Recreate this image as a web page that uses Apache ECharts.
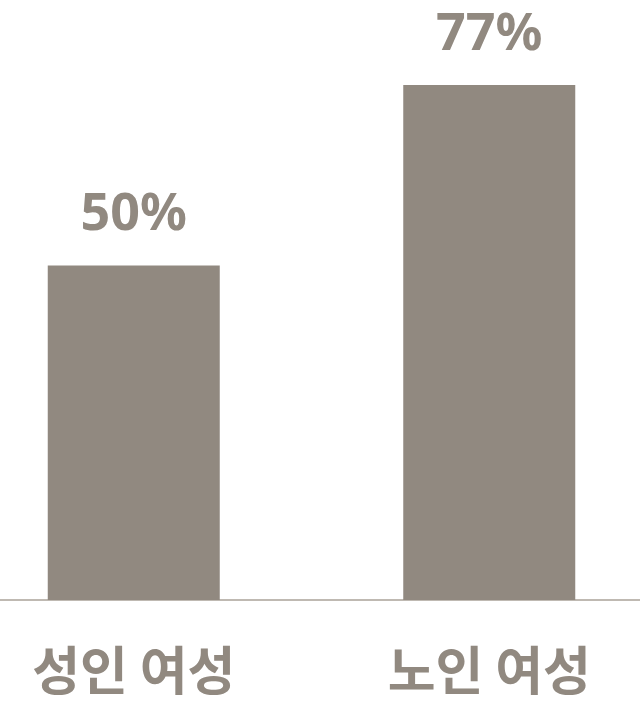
<!DOCTYPE html>
<html><head><meta charset="utf-8">
<script src="https://cdn.jsdelivr.net/npm/echarts@6/dist/echarts.min.js"></script>
<style>html,body{margin:0;padding:0;background:#fff}#c{width:640px;height:707px}</style>
</head><body><div id="c"></div>
<script>
const categories = ['성인 여성', '노인 여성'];
const values = [50, 77];
const chart = echarts.init(document.getElementById('c'));
chart.setOption({
  animation: false,
  grid: { left: -44, right: -27, top: 85, bottom: 107, outerBoundsMode: 'none' },
  xAxis: {
    type: 'category', data: categories,
    axisLine: { lineStyle: { color: '#aaa299', width: 1.5 } },
    axisTick: { show: false },
    axisLabel: { margin: 44, fontSize: 52, fontWeight: 'bold', color: '#918980', fontFamily: 'Noto Sans CJK KR' }
  },
  yAxis: { type: 'value', min: 0, max: 77, show: false, splitLine: { show: false } },
  series: [{
    type: 'bar', data: values, barWidth: 172,
    itemStyle: { color: '#918980' },
    label: { show: true, position: 'top', distance: 24, formatter: '{c}%', fontSize: 52, fontWeight: 'bold', color: '#918980', fontFamily: 'Noto Sans' }
  }]
});
</script></body></html>
